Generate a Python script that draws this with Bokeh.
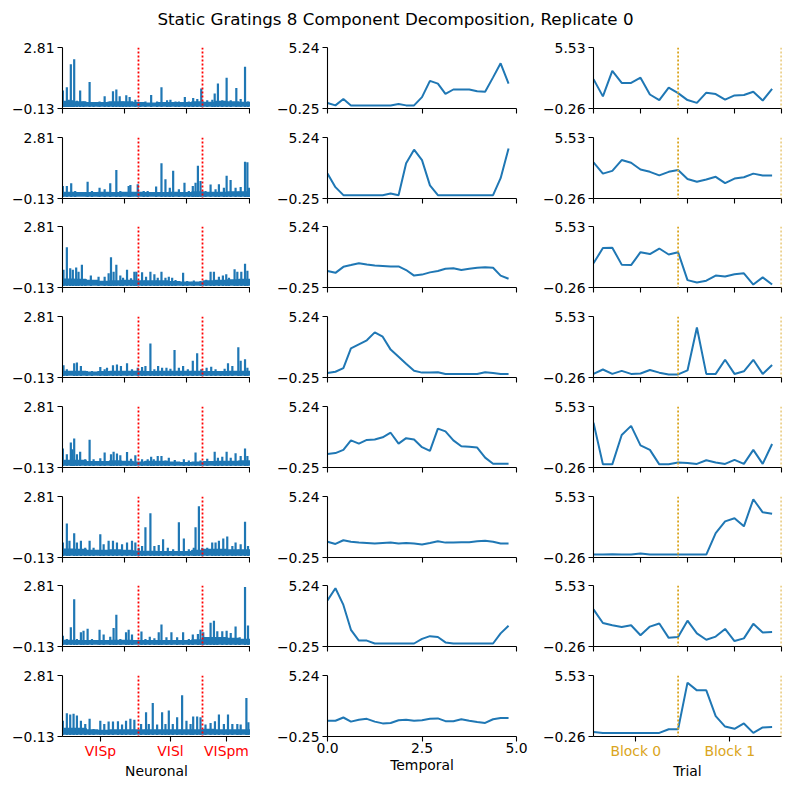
from bokeh.embed import file_html
from bokeh.layouts import column, gridplot
from bokeh.models import (ColumnDataSource, CustomJSTickFormatter, FixedTicker,
                          Label, Range1d, Span)
from bokeh.plotting import figure
from bokeh.resources import INLINE

TITLE = "Static Gratings 8 Component Decomposition, Replicate 0"

# ---------------- neuronal factors ----------------
N_NEURONS = 1512
REGIONS = ["VISp", "VISl", "VISpm"]
REGION_EDGES = [0, 611, 1126, 1512]
NEURON_TICKS = [0, 500, 1000, 1500]
NEURON_YLIM = (-0.13, 2.81)

# background loading level in 16 equal neuron bins, one list per component
NEURON_BASE = [
    [0.20, 0.17, 0.13, 0.13, 0.17, 0.17, 0.13, 0.11, 0.13, 0.13, 0.13, 0.17, 0.15, 0.20, 0.17, 0.15],
    [0.15, 0.13, 0.13, 0.15, 0.13, 0.15, 0.15, 0.13, 0.13, 0.15, 0.13, 0.17, 0.15, 0.15, 0.17, 0.17],
    [0.26, 0.24, 0.20, 0.15, 0.17, 0.20, 0.17, 0.17, 0.17, 0.13, 0.11, 0.11, 0.17, 0.20, 0.22, 0.24],
    [0.15, 0.15, 0.11, 0.13, 0.15, 0.15, 0.15, 0.13, 0.15, 0.15, 0.15, 0.15, 0.13, 0.13, 0.15, 0.15],
    [0.20, 0.20, 0.13, 0.13, 0.17, 0.15, 0.11, 0.15, 0.15, 0.11, 0.09, 0.11, 0.13, 0.15, 0.15, 0.17],
    [0.26, 0.24, 0.19, 0.19, 0.22, 0.19, 0.15, 0.15, 0.13, 0.13, 0.13, 0.19, 0.24, 0.24, 0.22, 0.22],
    [0.15, 0.13, 0.13, 0.13, 0.15, 0.15, 0.13, 0.13, 0.13, 0.13, 0.13, 0.17, 0.28, 0.28, 0.24, 0.20],
    [0.24, 0.24, 0.17, 0.15, 0.17, 0.17, 0.17, 0.17, 0.17, 0.17, 0.17, 0.17, 0.20, 0.17, 0.17, 0.17],
]

# (neuron index, loading) of the individual neuron peaks, per component
NEURON_PEAKS_1 = [(3, 0.68), (19, 0.16), (35, 0.84), (51, 0.24), (67, 1.95), (81, 0.21), (94, 2.19),
                  (116, 0.19), (142, 0.68), (169, 0.16), (218, 1.09), (250, 0.13), (298, 0.15),
                  (339, 0.41), (371, 0.16), (406, 0.65), (433, 0.73), (460, 0.41), (487, 0.15),
                  (513, 0.45), (540, 0.37), (586, 0.24), (626, 0.13), (667, 0.15), (713, 0.47),
                  (761, 0.16), (796, 0.84), (841, 0.21), (868, 0.24), (909, 0.16), (936, 0.15),
                  (984, 0.37), (1016, 0.15), (1051, 0.32), (1084, 0.28), (1116, 0.78), (1164, 0.21),
                  (1205, 0.24), (1224, 0.54), (1250, 1.02), (1285, 0.21), (1320, 1.30), (1353, 0.21),
                  (1398, 0.81), (1433, 0.28), (1468, 1.83), (1492, 0.16)]
NEURON_PEAKS_2 = [(3, 0.42), (35, 0.42), (70, 0.55), (102, 0.18), (202, 0.62), (237, 0.18), (298, 0.34),
                  (339, 0.26), (384, 0.55), (433, 1.19), (465, 0.18), (532, 0.42), (546, 0.47),
                  (605, 0.50), (653, 0.18), (685, 0.18), (753, 0.39), (796, 1.51), (828, 0.75),
                  (863, 0.34), (890, 1.15), (936, 0.26), (981, 0.58), (1016, 0.18), (1048, 0.42),
                  (1070, 0.58), (1089, 1.40), (1110, 0.66), (1150, 0.18), (1191, 0.49), (1231, 0.26),
                  (1258, 0.50), (1298, 0.34), (1320, 0.91), (1352, 0.71), (1392, 0.34), (1433, 0.37),
                  (1468, 1.59), (1487, 1.56), (1500, 0.34)]
NEURON_PEAKS_3 = [(8, 0.67), (35, 1.76), (62, 0.75), (83, 0.67), (110, 0.78), (129, 0.58), (156, 0.91),
                  (183, 0.21), (228, 0.39), (290, 0.34), (339, 0.34), (371, 0.50), (390, 1.27),
                  (411, 0.58), (433, 0.91), (465, 0.39), (487, 0.29), (519, 0.67), (551, 0.26),
                  (578, 0.58), (594, 0.58), (640, 0.55), (672, 0.34), (707, 0.58), (739, 0.45),
                  (766, 0.29), (796, 0.58), (828, 0.29), (855, 0.34), (882, 0.29), (909, 0.18),
                  (970, 0.53), (1003, 0.13), (1056, 0.16), (1110, 0.13), (1156, 0.19), (1191, 0.58),
                  (1218, 0.58), (1258, 0.34), (1290, 0.39), (1317, 0.45), (1339, 0.29), (1384, 0.70),
                  (1406, 0.58), (1438, 0.58), (1468, 0.96), (1487, 0.62)]
NEURON_PEAKS_4 = [(8, 0.41), (35, 0.21), (94, 0.50), (116, 0.54), (148, 0.37), (196, 0.13), (237, 0.13),
                  (304, 0.32), (339, 0.21), (358, 0.29), (406, 0.41), (438, 0.44), (470, 0.37),
                  (519, 0.50), (559, 0.21), (605, 0.29), (640, 0.32), (667, 0.37), (707, 1.46),
                  (739, 0.21), (769, 0.37), (801, 0.29), (836, 0.29), (868, 0.24), (901, 1.14),
                  (936, 0.29), (970, 0.37), (1008, 0.21), (1048, 0.62), (1083, 0.99), (1116, 0.21),
                  (1159, 0.29), (1196, 0.34), (1231, 0.21), (1271, 0.13), (1304, 0.24), (1331, 0.50),
                  (1366, 0.37), (1414, 1.27), (1433, 0.62), (1468, 0.70), (1487, 0.29)]
NEURON_PEAKS_5 = [(3, 0.73), (35, 0.45), (67, 1.02), (78, 0.70), (94, 1.22), (116, 0.45), (142, 0.58),
                  (183, 0.21), (218, 1.15), (250, 0.21), (304, 0.26), (339, 0.54), (390, 0.45),
                  (411, 0.58), (438, 0.49), (465, 0.41), (519, 0.57), (551, 0.24), (586, 0.41),
                  (640, 0.21), (685, 0.21), (713, 0.34), (734, 0.21), (766, 0.37), (796, 0.37),
                  (828, 0.16), (855, 0.29), (903, 0.18), (976, 0.21), (1016, 0.15), (1070, 0.54),
                  (1110, 0.16), (1164, 0.24), (1224, 0.58), (1250, 0.29), (1285, 0.34), (1320, 0.58),
                  (1353, 0.29), (1392, 0.50), (1433, 0.37), (1468, 0.73), (1487, 0.37)]
NEURON_PEAKS_6 = [(3, 0.54), (35, 1.46), (56, 0.62), (94, 0.99), (116, 0.54), (148, 0.62), (183, 0.29),
                  (218, 0.62), (250, 0.29), (304, 0.94), (331, 0.45), (371, 0.62), (406, 0.62),
                  (438, 0.54), (479, 0.45), (519, 0.54), (559, 0.62), (586, 0.54), (613, 0.29),
                  (640, 0.37), (667, 1.27), (707, 1.95), (739, 0.37), (774, 0.42), (809, 0.70),
                  (847, 0.29), (890, 0.21), (936, 1.51), (976, 0.73), (1016, 0.21), (1056, 0.29),
                  (1070, 1.27), (1097, 2.29), (1124, 0.29), (1164, 0.29), (1204, 0.54), (1231, 0.54),
                  (1258, 0.62), (1293, 0.73), (1325, 0.83), (1366, 0.37), (1392, 0.54), (1433, 0.45),
                  (1468, 1.54), (1492, 0.37)]
NEURON_PEAKS_7 = [(3, 0.34), (35, 0.18), (67, 0.75), (94, 2.09), (116, 0.18), (148, 0.50), (169, 0.58),
                  (202, 0.67), (237, 0.18), (298, 0.63), (331, 0.39), (384, 0.29), (411, 0.71),
                  (433, 1.35), (465, 0.18), (511, 0.50), (532, 0.62), (559, 0.39), (635, 0.54),
                  (667, 0.18), (702, 0.29), (739, 0.21), (774, 0.50), (796, 0.88), (836, 0.26),
                  (876, 0.50), (922, 0.26), (970, 0.50), (1016, 0.18), (1048, 0.39), (1089, 0.42),
                  (1110, 0.62), (1132, 0.50), (1164, 0.26), (1191, 0.96), (1218, 1.06), (1245, 0.55),
                  (1285, 0.55), (1320, 0.58), (1353, 0.47), (1392, 0.78), (1425, 0.26), (1468, 2.68),
                  (1492, 0.83)]
NEURON_PEAKS_8 = [(3, 0.58), (35, 0.94), (62, 0.88), (89, 0.91), (116, 0.83), (148, 0.58), (183, 0.42),
                  (218, 0.67), (250, 0.18), (304, 0.58), (336, 0.42), (371, 0.54), (406, 0.54),
                  (446, 0.55), (479, 0.39), (511, 0.58), (546, 0.67), (578, 0.63), (632, 0.42),
                  (672, 0.99), (694, 0.42), (726, 1.43), (761, 0.39), (801, 0.99), (828, 0.42),
                  (855, 1.07), (887, 0.42), (922, 0.75), (962, 1.80), (997, 0.58), (1030, 0.42),
                  (1051, 0.78), (1083, 0.78), (1110, 0.75), (1150, 0.39), (1191, 0.47), (1226, 0.55),
                  (1258, 0.88), (1298, 0.42), (1331, 0.88), (1366, 0.42), (1406, 0.42), (1433, 0.39),
                  (1479, 1.67), (1495, 0.50)]
NEURON_PEAKS = [NEURON_PEAKS_1, NEURON_PEAKS_2, NEURON_PEAKS_3, NEURON_PEAKS_4,
                NEURON_PEAKS_5, NEURON_PEAKS_6, NEURON_PEAKS_7, NEURON_PEAKS_8]

# ---------------- temporal factors ----------------
TIME_S = [0.0, 0.21, 0.42, 0.62, 0.83, 1.04, 1.25, 1.46, 1.67, 1.88, 2.08, 2.29,
          2.5, 2.71, 2.92, 3.12, 3.33, 3.54, 3.75, 3.96, 4.17, 4.38, 4.58, 4.79]
TIME_TICKS = [0.0, 2.5, 5.0]
TEMPORAL_YLIM = (-0.25, 5.24)
TEMPORAL = [
    [0.24, 0.03, 0.60, 0.02, 0.02, 0.02, 0.02, 0.02, 0.02, 0.15, 0.03, 0.03,
     0.77, 2.24, 1.99, 1.06, 1.46, 1.46, 1.46, 1.30, 1.26, 2.55, 3.82, 1.99],
    [1.99, 0.77, 0.05, 0.05, 0.05, 0.05, 0.05, 0.05, 0.20, 0.05, 2.92, 4.14,
     3.20, 0.93, 0.05, 0.05, 0.05, 0.05, 0.05, 0.05, 0.05, 0.05, 1.58, 4.26],
    [1.24, 1.07, 1.61, 1.77, 1.94, 1.82, 1.73, 1.69, 1.65, 1.65, 1.32, 0.82,
     0.91, 1.11, 1.24, 1.44, 1.49, 1.32, 1.44, 1.53, 1.57, 1.53, 0.82, 0.54],
    [0.15, 0.27, 0.59, 2.38, 2.74, 3.10, 3.81, 3.42, 2.26, 1.62, 0.99, 0.35,
     0.19, 0.19, 0.23, 0.07, 0.07, 0.07, 0.07, 0.07, 0.23, 0.15, 0.07, 0.07],
    [0.97, 1.05, 1.34, 2.19, 1.90, 2.23, 2.27, 2.47, 2.88, 1.90, 2.39, 2.27,
     1.58, 1.25, 3.25, 3.00, 2.19, 1.66, 1.62, 1.54, 0.64, 0.08, 0.08, 0.08],
    [1.17, 0.97, 1.30, 1.17, 1.09, 1.05, 1.01, 1.05, 1.09, 1.01, 1.05, 1.01,
     0.93, 1.05, 1.21, 1.09, 1.09, 1.13, 1.13, 1.21, 1.25, 1.17, 1.01, 1.01],
    [3.90, 4.99, 3.49, 1.25, 0.28, 0.28, 0.02, 0.02, 0.02, 0.02, 0.02, 0.02,
     0.44, 0.68, 0.60, 0.12, 0.02, 0.02, 0.02, 0.02, 0.02, 0.02, 0.93, 1.62],
    [1.17, 1.17, 1.46, 1.09, 1.25, 1.34, 1.09, 0.93, 0.97, 1.21, 1.25, 1.17,
     1.21, 1.34, 1.38, 1.13, 1.13, 1.30, 1.17, 1.05, 0.97, 1.30, 1.42, 1.42],
]

# ---------------- trial factors ----------------
TRIALS = [0, 1, 2, 3, 4, 5, 6, 7, 8, 9, 10, 11, 12, 13, 14, 15, 16, 17, 18, 19]
BLOCKS = ["Block 0", "Block 1"]
BLOCK_EDGES = [0, 9, 20]
TRIAL_TICKS = [0, 5, 10, 15, 20]
TRIAL_YLIM = (-0.26, 5.53)
TRIAL = [
    [2.53, 0.89, 3.32, 2.17, 2.17, 2.66, 1.07, 0.54, 1.73, 1.20,
     0.54, 0.27, 1.24, 1.11, 0.58, 0.98, 1.02, 1.33, 0.49, 1.60],
    [3.17, 2.10, 2.36, 3.39, 3.13, 2.49, 2.27, 1.93, 2.27, 2.44,
     1.59, 1.33, 1.54, 1.80, 1.20, 1.63, 1.76, 2.10, 1.93, 1.93],
    [2.04, 3.48, 3.52, 1.91, 1.87, 3.09, 2.91, 3.44, 2.87, 3.09,
     0.44, 0.22, 0.39, 0.87, 0.78, 1.00, 1.09, 0.02, 0.70, 0.02],
    [0.08, 0.50, 0.08, 0.37, 0.08, 0.12, 0.45, 0.20, 0.03, 0.03,
     0.41, 4.49, 0.08, 0.08, 1.42, 0.08, 0.33, 1.42, 0.08, 0.92],
    [3.99, 0.04, 0.04, 2.83, 3.69, 1.84, 1.41, 0.04, 0.04, 0.21,
     0.17, 0.08, 0.43, 0.21, 0.08, 0.47, 0.08, 1.41, 0.08, 1.97],
    [0.02, 0.02, 0.04, 0.02, 0.02, 0.13, 0.02, 0.02, 0.02, 0.02,
     0.02, 0.02, 0.02, 2.06, 3.17, 3.47, 2.70, 5.27, 4.03, 3.90],
    [3.26, 1.97, 1.76, 1.59, 1.76, 0.81, 1.63, 1.93, 0.56, 0.64,
     2.19, 0.98, 0.38, 0.68, 1.41, 0.26, 0.51, 1.89, 1.07, 1.11],
    [0.17, 0.08, 0.08, 0.08, 0.08, 0.08, 0.08, 0.08, 0.43, 0.43,
     4.85, 4.12, 4.12, 1.67, 0.68, 0.47, 0.98, 0.08, 0.60, 0.64],
]

# ---------------- styling / layout ----------------
BLUE = "#1f77b4"
REGION_COLOR = "red"
BLOCK_COLOR = "goldenrod"
FONT = "DejaVu Sans"
TICK_SIZE = "13.9px"
TITLE_SIZE = "16.7px"

TITLE_H = 36
TOP_PAD = 11
FRAME_H = 61
ROW_HEIGHTS = [90, 89, 90, 90, 90, 89, 90, 125]
# (figure width, left border, right border) for each column
COLS = [(250, 62, 0), (278, 77, 12), (262, 65, 9)]

Y_FORMAT = CustomJSTickFormatter(
    code="return (tick < 0 ? '\u2212' : '') + Math.abs(tick).toFixed(2);")


def new_fig(col, height, x_range, y_range):
    width, left, right = COLS[col]
    p = figure(width=width, height=height, x_range=x_range, y_range=y_range,
               output_backend="svg", toolbar_location=None, min_border=0,
               min_border_left=left, min_border_right=right,
               min_border_top=TOP_PAD, min_border_bottom=height - TOP_PAD - FRAME_H)
    p.outline_line_color = None
    p.xgrid.visible = False
    p.ygrid.visible = False
    p.background_fill_color = "white"
    p.border_fill_color = "white"
    for ax in (p.xaxis[0], p.yaxis[0]):
        ax.axis_line_color = "black"
        ax.axis_line_width = 1.1
        ax.major_tick_line_color = "black"
        ax.major_tick_line_width = 1.1
        ax.major_tick_out = 5
        ax.major_tick_in = 0
        ax.minor_tick_line_color = None
        ax.minor_tick_out = 0
        ax.major_label_text_font = FONT
        ax.major_label_text_font_size = TICK_SIZE
        ax.major_label_text_color = "black"
        ax.major_label_standoff = 3
        ax.axis_label_text_font = FONT
        ax.axis_label_text_font_size = TICK_SIZE
        ax.axis_label_text_font_style = "normal"
        ax.axis_label_text_color = "black"
        ax.axis_label_standoff = 1
    p.xaxis[0].major_label_standoff = 1
    lo, hi = y_range.start, y_range.end
    p.yaxis[0].ticker = FixedTicker(ticks=[lo, hi])
    p.yaxis[0].formatter = Y_FORMAT
    return p


def hide_x_labels(p):
    p.xaxis[0].formatter = CustomJSTickFormatter(code="return '';")
    p.xaxis[0].major_label_standoff = 0


def neuronal_panel(k, height, bottom):
    p = new_fig(0, height, Range1d(0, N_NEURONS), Range1d(*NEURON_YLIM))
    nb = len(NEURON_BASE[k])
    bw = N_NEURONS / nb
    base = ColumnDataSource(dict(x=[(i + 0.5) * bw for i in range(nb)], top=NEURON_BASE[k]))
    p.vbar(x="x", top="top", bottom=0, width=bw, source=base,
           fill_color=BLUE, line_color=BLUE, line_width=2)
    idx = [a for a, _ in NEURON_PEAKS[k]]
    val = [b for _, b in NEURON_PEAKS[k]]
    peaks = ColumnDataSource(dict(x=idx, y=val, y0=[0] * len(idx)))
    p.segment(x0="x", y0="y0", x1="x", y1="y", source=peaks, line_color=BLUE,
              line_width=2.2, line_cap="square")
    for edge in REGION_EDGES[1:-1]:
        p.add_layout(Span(location=edge, dimension="height", line_color=REGION_COLOR,
                          line_width=1.8, line_dash="2 2"))
    if bottom:
        mids = [(REGION_EDGES[i] + REGION_EDGES[i + 1]) / 2 for i in range(len(REGIONS))]
        p.xaxis[0].ticker = FixedTicker(ticks=mids)
        p.xaxis[0].major_label_overrides = {m: name for m, name in zip(mids, REGIONS)}
        p.xaxis[0].major_label_text_color = REGION_COLOR
        p.xaxis[0].axis_label = "Neuronal"
    else:
        p.xaxis[0].ticker = FixedTicker(ticks=NEURON_TICKS)
        hide_x_labels(p)
    return p


def temporal_panel(k, height, bottom):
    p = new_fig(1, height, Range1d(0, 5), Range1d(*TEMPORAL_YLIM))
    p.line(TIME_S, TEMPORAL[k], line_color=BLUE, line_width=2)
    p.xaxis[0].ticker = FixedTicker(ticks=TIME_TICKS)
    if bottom:
        p.xaxis[0].formatter = CustomJSTickFormatter(code="return tick.toFixed(1);")
        p.xaxis[0].axis_label = "Temporal"
    else:
        hide_x_labels(p)
    return p


def trial_panel(k, height, bottom):
    p = new_fig(2, height, Range1d(0, 20), Range1d(*TRIAL_YLIM))
    p.line(TRIALS, TRIAL[k], line_color=BLUE, line_width=2)
    for edge in BLOCK_EDGES[1:]:
        p.add_layout(Span(location=edge, dimension="height", line_color=BLOCK_COLOR,
                          line_width=1.8, line_dash="2 2"))
    if bottom:
        mids = [(BLOCK_EDGES[i] + BLOCK_EDGES[i + 1]) / 2 for i in range(len(BLOCKS))]
        p.xaxis[0].ticker = FixedTicker(ticks=mids)
        p.xaxis[0].major_label_overrides = {m: name for m, name in zip(mids, BLOCKS)}
        p.xaxis[0].major_label_text_color = BLOCK_COLOR
        p.xaxis[0].axis_label = "Trial"
    else:
        p.xaxis[0].ticker = FixedTicker(ticks=TRIAL_TICKS)
        hide_x_labels(p)
    return p


rows = []
n_comp = len(TEMPORAL)
for k in range(n_comp):
    h = ROW_HEIGHTS[k]
    last = k == n_comp - 1
    rows.append([neuronal_panel(k, h, last), temporal_panel(k, h, last), trial_panel(k, h, last)])

grid = gridplot(rows, toolbar_location=None)

head = figure(width=790, height=TITLE_H, x_range=Range1d(0, 1), y_range=Range1d(0, 1),
              output_backend="svg", toolbar_location=None, min_border=0)
head.axis.visible = False
head.grid.visible = False
head.outline_line_color = None
head.add_layout(Label(x=395, y=TITLE_H - 18, x_units="screen", y_units="screen", text=TITLE,
                      text_align="center", text_baseline="middle", text_font=FONT,
                      text_font_size=TITLE_SIZE, text_color="black"))

page = column(head, grid)
open("out.html", "w").write(file_html(page, INLINE, title=TITLE))
